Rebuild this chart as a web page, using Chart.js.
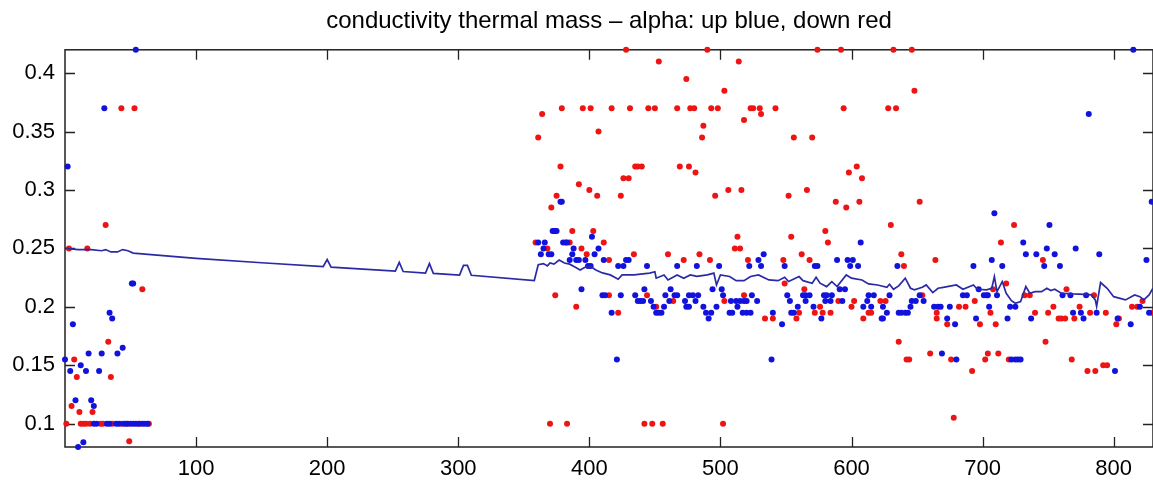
<!DOCTYPE html>
<html>
<head>
<meta charset="utf-8">
<script src="https://cdn.jsdelivr.net/npm/chart.js@4.4.1/dist/chart.umd.min.js"></script>
<style>
html,body{margin:0;padding:0;background:#fff;overflow:hidden;}
#wrap{width:1153px;height:486px;overflow:hidden;}
canvas{display:block;}
</style>
</head>
<body>
<div id="wrap"><canvas id="c" width="1156" height="486"></canvas></div>
<script>
const titleText = "conductivity thermal mass \u2013 alpha: up blue, down red";
const xTicks = [100,200,300,400,500,600,700,800];
const yTicks = [0.1,0.15,0.2,0.25,0.3,0.35,0.4];

// "down" alpha values (red markers)
const redX = [31,3,17,43,53,59,33,7,9,35,5,11,21,1,12,14,16,19,27,29,36,43,48,57,64,49,
  428,490,574,592,632,646, 453,514, 474, 503,648,
  379,395,401,417,431,445,450,467,477,480,493,498,523,525,530,542,594,628,634,
  364,531, 518, 487, 407, 361,486,556,570,
  378,435,437,440,469,476,604, 481,598, 426,430,608, 392, 400,506,516,566,
  375,406,424,496,552, 588,606,652, 371,596, 630,724, 387,403,580, 513,554,
  359,385,411,582,714, 368,394,511,515, 398,434,460,484,562,638,
  415,472,492,521,548,568,664,746, 640, 549,718, 564,708,764,
  374,415,444,518,654,732,736,785, 464,503,590,602,622,626,694,822,
  390,451,576,600,682,687,754,774,814,818,
  422,560,572,578,584,613,615,665,706,740,750,782,794,829,
  534,540,558,609,665,758,760,763,770,804, 673,698,710,802,
  636,748, 660,704,712, 642,644,676,702,720,768, 792,795, 692,780,786, 678,
  370,383,442,448,456,502];
const redY = [0.27,0.25,0.25,0.37,0.37,0.215,0.17,0.155,0.14,0.14,0.115,0.11,0.11,0.1,0.1,0.1,0.1,0.1,0.1,0.1,0.1,0.1,0.1,0.1,0.1,0.085,
  0.42,0.42,0.42,0.42,0.42,0.42, 0.41,0.41, 0.395, 0.385,0.385,
  0.37,0.37,0.37,0.37,0.37,0.37,0.37,0.37,0.37,0.37,0.37,0.37,0.37,0.37,0.37,0.37,0.37,0.37,0.37,
  0.365,0.365, 0.36, 0.355, 0.35, 0.345,0.345,0.345,0.345,
  0.32,0.32,0.32,0.32,0.32,0.32,0.32, 0.315,0.315, 0.31,0.31,0.31, 0.305, 0.3,0.3,0.3,0.3,
  0.295,0.295,0.295,0.295,0.295, 0.29,0.29,0.29, 0.285,0.285, 0.27,0.27, 0.265,0.265,0.265, 0.26,0.26,
  0.255,0.255,0.255,0.255,0.255, 0.25,0.25,0.25,0.25, 0.245,0.245,0.245,0.245,0.245,0.245,
  0.24,0.24,0.24,0.24,0.24,0.24,0.24,0.24, 0.235, 0.22,0.22, 0.215,0.215,0.215,
  0.21,0.21,0.21,0.21,0.21,0.21,0.21,0.21, 0.205,0.205,0.205,0.205,0.205,0.205,0.205,0.205,
  0.2,0.2,0.2,0.2,0.2,0.2,0.2,0.2,0.2,0.2,
  0.195,0.195,0.195,0.195,0.195,0.195,0.195,0.195,0.195,0.195,0.195,0.195,0.195,0.195,
  0.19,0.19,0.19,0.19,0.19,0.19,0.19,0.19,0.19,0.19, 0.185,0.185,0.185,0.185,
  0.17,0.17, 0.16,0.16,0.16, 0.155,0.155,0.155,0.155,0.155,0.155, 0.15,0.15, 0.145,0.145,0.145, 0.105,
  0.1,0.1,0.1,0.1,0.1,0.1];

// "up" alpha values (blue markers)
const blueX = [54,30,2,51,52,6,34,36,44,40,18,28,0,4,12,16,26,8,20,22,10,14,
  22,24,32,34,39,41,45,47,50,52,54,56,59,61,63,
  815, 781, 378,379,829, 709, 751, 372,373,374,375, 402,
  361,366,380,382,383,607,731, 365,388,407,749,771,
  363,369,371,387,404,533,733,741,755,789,
  385,390,392,397,411,428,430,529,589,597,601,707,825,
  399,401,422,426,444,467,482,499,522,531,549,572,574,599,605,635,693,715,747,759,
  394,442,462,494,501,591,595,697,
  410,412,424,435,458,465,467,476,479,483,502,524,551,563,565,568,579,581,585,613,617,629,652,685,688,701,703,704,711,761,767,779,
  437,439,441,447,461,473,481,508,512,515,518,520,528,553,565,580,584,593,612,646,649,655,
  449,457,474,476,487,497,513,559,571,609,615,624,645,663,666,668,675,705,721,725,820,
  417,451,453,455,489,493,507,509,517,520,523,540,554,556,627,636,638,641,643,769,775,787,827,
  491,577,623,624,673,695,719,737,777,803, 547,679,813, 669, 421,539,680,722,725,727,729, 801];
const blueY = [0.42,0.37,0.32,0.22,0.22,0.185,0.195,0.19,0.165,0.16,0.16,0.16,0.155,0.145,0.15,0.145,0.145,0.12,0.12,0.115,0.08,0.084,
  0.1,0.1,0.1,0.1,0.1,0.1,0.1,0.1,0.1,0.1,0.1,0.1,0.1,0.1,0.1,
  0.42, 0.365, 0.29,0.29,0.29, 0.28, 0.27, 0.265,0.265,0.265,0.265, 0.26,
  0.255,0.255,0.255,0.255,0.255,0.255,0.255, 0.25,0.25,0.25,0.25,0.25,
  0.245,0.245,0.245,0.245,0.245,0.245,0.245,0.245,0.245,0.245,
  0.24,0.24,0.24,0.24,0.24,0.24,0.24,0.24,0.24,0.24,0.24,0.24,0.24,
  0.235,0.235,0.235,0.235,0.235,0.235,0.235,0.235,0.235,0.235,0.235,0.235,0.235,0.235,0.235,0.235,0.235,0.235,0.235,0.235,
  0.215,0.215,0.215,0.215,0.215,0.215,0.215,0.215,
  0.21,0.21,0.21,0.21,0.21,0.21,0.21,0.21,0.21,0.21,0.21,0.21,0.21,0.21,0.21,0.21,0.21,0.21,0.21,0.21,0.21,0.21,0.21,0.21,0.21,0.21,0.21,0.21,0.21,0.21,0.21,0.21,
  0.205,0.205,0.205,0.205,0.205,0.205,0.205,0.205,0.205,0.205,0.205,0.205,0.205,0.205,0.205,0.205,0.205,0.205,0.205,0.205,0.205,0.205,
  0.2,0.2,0.2,0.2,0.2,0.2,0.2,0.2,0.2,0.2,0.2,0.2,0.2,0.2,0.2,0.2,0.2,0.2,0.2,0.2,0.2,
  0.195,0.195,0.195,0.195,0.195,0.195,0.195,0.195,0.195,0.195,0.195,0.195,0.195,0.195,0.195,0.195,0.195,0.195,0.195,0.195,0.195,0.195,0.195,
  0.19,0.19,0.19,0.19,0.19,0.19,0.19,0.19,0.19,0.19, 0.185,0.185,0.185, 0.16, 0.155,0.155,0.155,0.155,0.155,0.155,0.155, 0.145];

// running estimate (line)
const lineX = [1,10,20,28,31,35,40,44,48,52,100,150,197,200,203,252,255,258,275,278,281,301,304,307,310,358,
  361,365,368,370,373,377,381,385,389,393,397,401,405,410,416,422,425,434,446,450,451,457,460,467,472,477,482,490,495,497,500,507,512,518,523,
  529,537,544,549,552,560,563,570,573,576,581,585,589,596,600,608,613,620,627,629,632,636,641,645,648,654,657,662,666,670,
  673,680,685,693,696,703,707,709,711,715,718,722,725,729,733,736,740,745,749,752,755,760,769,778,783,786,787,790,795,800,809,816,820,823,827,830];
const lineY = [0.250,0.249,0.249,0.248,0.249,0.247,0.247,0.249,0.248,0.246,0.2415,0.2377,0.2345,0.2405,0.234,0.2305,0.238,0.2302,0.2288,0.237,0.2286,0.2272,0.2355,0.2355,0.227,0.2225,
  0.236,0.237,0.235,0.2375,0.2365,0.240,0.2375,0.2365,0.234,0.2315,0.234,0.2345,0.2315,0.229,0.2273,0.2236,0.2273,0.2273,0.2288,0.230,0.2245,0.2273,0.223,0.2273,0.2245,0.2273,0.226,0.2273,0.2288,0.2187,0.2273,0.226,0.2224,0.2224,0.226,
  0.2273,0.223,0.2224,0.2253,0.2216,0.2259,0.2224,0.2202,0.2253,0.2202,0.2173,0.2216,0.2173,0.2273,0.2245,0.223,0.2196,0.2187,0.2167,0.2193,0.215,0.2179,0.2245,0.2159,0.2145,0.2167,0.2187,0.2122,0.2159,0.2167,
  0.2173,0.2187,0.215,0.2187,0.215,0.2145,0.2159,0.2259,0.213,0.2216,0.2116,0.2053,0.203,0.2045,0.2173,0.2116,0.213,0.213,0.2159,0.2139,0.215,0.2116,0.211,0.2107,0.2102,0.2059,0.2002,0.2208,0.2159,0.2087,0.2059,0.2102,0.2087,0.2059,0.2102,0.2159];

const zip = (xs, ys) => xs.map((x, i) => ({x: x, y: ys[i]}));

const FONT = "'Liberation Sans', Arial, Helvetica, sans-serif";
Chart.defaults.font.family = FONT;
Chart.defaults.color = '#000';

const framePlugin = {
  id: 'frame',
  beforeDatasetsDraw(chart) {
    const ctx = chart.ctx, a = chart.chartArea;
    const xs = chart.scales.x, ys = chart.scales.y;
    ctx.save();
    ctx.strokeStyle = '#222';
    ctx.lineWidth = 1.5;
    ctx.strokeRect(a.left, a.top, a.right - a.left, a.bottom - a.top);
    ctx.lineWidth = 1.3;
    ctx.beginPath();
    const tl = 10;
    xTicks.forEach(v => {
      const px = Math.round(xs.getPixelForValue(v)) + 0.5;
      ctx.moveTo(px, a.bottom); ctx.lineTo(px, a.bottom - tl);
      ctx.moveTo(px, a.top); ctx.lineTo(px, a.top + tl);
    });
    yTicks.forEach(v => {
      const py = Math.round(ys.getPixelForValue(v)) + 0.5;
      ctx.moveTo(a.left, py); ctx.lineTo(a.left + tl, py);
      ctx.moveTo(a.right, py); ctx.lineTo(a.right - tl, py);
    });
    ctx.stroke();
    ctx.restore();
  }
};

new Chart(document.getElementById('c'), {
  type: 'scatter',
  data: {
    datasets: [
      { label: 'estimate', data: zip(lineX, lineY), showLine: true, pointRadius: 0, pointHoverRadius: 0,
        borderColor: '#2a2aa6', borderWidth: 1.7, tension: 0, order: 0, clip: false },
      { label: 'up', data: zip(blueX, blueY), pointRadius: 3, pointHoverRadius: 3,
        pointBorderWidth: 0, pointHoverBorderWidth: 0,
        backgroundColor: '#1212dd', borderColor: '#1212dd', order: 1, clip: false },
      { label: 'down', data: zip(redX, redY), pointRadius: 3, pointHoverRadius: 3,
        pointBorderWidth: 0, pointHoverBorderWidth: 0,
        backgroundColor: '#ee1414', borderColor: '#ee1414', order: 2, clip: false }
    ]
  },
  options: {
    responsive: false,
    animation: false,
    devicePixelRatio: 1,
    events: [],
    layout: { padding: 0 },
    plugins: {
      legend: { display: false },
      tooltip: { enabled: false },
      title: { display: true, fullSize: false, text: titleText, color: '#000',
        font: { size: 24, weight: 'normal', family: FONT }, padding: { top: 7, bottom: 14 } }
    },
    scales: {
      x: {
        type: 'linear', min: 0, max: 830,
        grid: { display: false, drawTicks: false }, border: { display: false },
        afterBuildTicks: s => { s.ticks = xTicks.map(v => ({ value: v })); },
        afterFit: s => { s.height = 39; },
        ticks: { font: { size: 22, family: FONT }, color: '#000', padding: 9, maxRotation: 0,
          callback: v => String(v) }
      },
      y: {
        type: 'linear', min: 0.08, max: 0.42,
        grid: { display: false, drawTicks: false }, border: { display: false },
        afterBuildTicks: s => { s.ticks = yTicks.map(v => ({ value: v })); },
        afterFit: s => { s.width = 65; },
        ticks: { font: { size: 22, family: FONT }, color: '#000', padding: 10,
          callback: v => String(Math.round(v * 1000) / 1000) }
      }
    }
  },
  plugins: [framePlugin]
});
</script>
</body>
</html>
